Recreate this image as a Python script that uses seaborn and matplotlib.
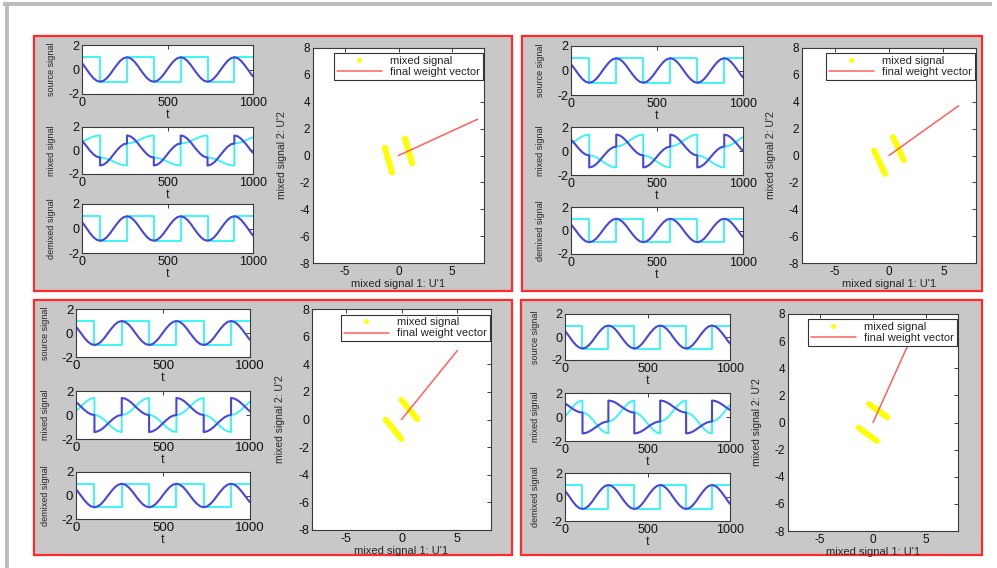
import numpy as np
import pandas as pd
import matplotlib
matplotlib.use("Agg")
import matplotlib.pyplot as plt
from matplotlib.patches import Rectangle
from matplotlib.lines import Line2D
import seaborn as sns

# ---------------- data ----------------
t_axis = [0, 8, 28, 47, 67, 86, 106,
          106, 126, 145, 165, 184, 204, 224, 243, 263,
          263, 283, 302, 322, 341, 361, 381, 400, 420,
          420, 440, 459, 479, 498, 518, 538, 557, 577,
          577, 597, 616, 636, 655, 675, 695, 714, 734,
          734, 754, 773, 793, 812, 832, 852, 871, 891,
          891, 911, 930, 950, 970, 989, 1000]

source_sine = [0.52, 0.38, 0.0, -0.38, -0.71, -0.92, -1.0,
               -1.0, -0.92, -0.71, -0.38, 0.0, 0.38, 0.71, 0.92, 1.0,
               1.0, 0.92, 0.71, 0.38, 0.0, -0.38, -0.71, -0.92, -1.0,
               -1.0, -0.92, -0.71, -0.38, 0.0, 0.38, 0.71, 0.92, 1.0,
               1.0, 0.92, 0.71, 0.38, 0.0, -0.38, -0.71, -0.92, -1.0,
               -1.0, -0.92, -0.71, -0.38, 0.0, 0.38, 0.71, 0.92, 1.0,
               1.0, 0.92, 0.71, 0.38, 0.0, -0.38, -0.57]

source_square = [1, 1, 1, 1, 1, 1, 1,
                 -1, -1, -1, -1, -1, -1, -1, -1, -1,
                 1, 1, 1, 1, 1, 1, 1, 1, 1,
                 -1, -1, -1, -1, -1, -1, -1, -1, -1,
                 1, 1, 1, 1, 1, 1, 1, 1, 1,
                 -1, -1, -1, -1, -1, -1, -1, -1, -1,
                 1, 1, 1, 1, 1, 1, 1]

# demixed signals look identical to the sources
demixed_sine = list(source_sine)
demixed_square = list(source_square)

# mixing coefficients per panel (TL, TR, BL, BR)
mix_cyan_sine = [-0.34, -0.50, -0.71, -0.87]
mix_cyan_square = [0.94, 0.87, 0.71, 0.50]
mix_blue_sine = [0.94, 0.87, 0.71, 0.50]
mix_blue_square = [0.34, 0.50, 0.71, 0.87]

# final weight vector end point per panel
weight_end_x = [7.4, 6.4, 5.0, 3.8]
weight_end_y = [2.7, 3.7, 5.0, 6.6]

small_labels = ["source signal", "mixed signal", "demixed signal"]
legend_labels = ["mixed signal", "final weight vector"]

# ---------------- layout (pixels) ----------------
W, H = 997, 568
panels = [
    dict(box=(34, 36, 512, 291), sx=(82, 253), sy=[(45, 94), (127, 174), (204, 253)], big=(313, 48, 484, 263)),
    dict(box=(522, 36, 982, 291), sx=(571, 743), sy=[(46, 95), (127, 175), (207, 254)], big=(802, 48, 976, 263)),
    dict(box=(34, 300, 512, 555), sx=(76, 250), sy=[(309, 357), (391, 439), (472, 519)], big=(312, 309, 491, 530)),
    dict(box=(521, 300, 982, 555), sx=(565, 730), sy=[(314, 360), (393, 441), (473, 521)], big=(788, 314, 958, 531)),
]


def rect(x0, y0, x1, y1):
    return [x0 / W, 1 - y1 / H, (x1 - x0) / W, (y1 - y0) / H]


sns.set_style("white")
plt.rcParams['font.family'] = ['Liberation Sans', 'DejaVu Sans']
plt.rcParams['axes.unicode_minus'] = False

fig = plt.figure(figsize=(W / 100, H / 100), dpi=100)
fig.patch.set_facecolor("white")

# outer grey frame lines
fig.add_artist(Rectangle((3 / W, 1 - 6 / H), 989 / W, 4 / H, transform=fig.transFigure,
                         facecolor="#bdbdbd", edgecolor="none", zorder=-10))
fig.add_artist(Rectangle((5 / W, 0), 4 / W, 1 - 2 / H, transform=fig.transFigure,
                         facecolor="#bdbdbd", edgecolor="none", zorder=-10))

CYAN = "#2ff5f5"
BLUE = "#4646e0"
RED = "#ff6060"
YEL = "#ffff00"
SPINE = "#3a3a3a"


def style_axes(ax, fs):
    ax.set_facecolor("white")
    for s in ax.spines.values():
        s.set_color(SPINE)
        s.set_linewidth(0.8)
        s.set_visible(True)
    ax.tick_params(direction="in", top=True, right=True, length=3, width=0.7,
                   labelsize=fs, colors=SPINE, labelcolor="#111111", pad=2)


sine = np.array(source_sine)
square = np.array(source_square)

for i, p in enumerate(panels):
    fig.add_artist(Rectangle((p["box"][0] / W, 1 - p["box"][3] / H),
                             (p["box"][2] - p["box"][0]) / W, (p["box"][3] - p["box"][1]) / H,
                             transform=fig.transFigure, facecolor="#c8c8c8",
                             edgecolor="#ff2a2a", lw=1.6, zorder=-5))
    fs = 9.5 if i == 2 else 9
    cyan_mix = mix_cyan_sine[i] * sine + mix_cyan_square[i] * square
    blue_mix = mix_blue_sine[i] * sine + mix_blue_square[i] * square
    series = [(source_square, source_sine), (list(cyan_mix), list(blue_mix)),
              (demixed_square, demixed_sine)]
    for k in range(3):
        y0, y1 = p["sy"][k]
        ax = fig.add_axes(rect(p["sx"][0], y0, p["sx"][1], y1))
        cy, bl = series[k]
        sns.lineplot(x=t_axis, y=cy, ax=ax, estimator=None, sort=False, color=CYAN, lw=1.3)
        sns.lineplot(x=t_axis, y=bl, ax=ax, estimator=None, sort=False, color=BLUE, lw=1.5)
        ax.set_xlim(0, 1000)
        ax.set_ylim(-2, 2)
        ax.set_xticks([0, 500, 1000])
        ax.set_yticks([-2, 0, 2])
        style_axes(ax, fs)
        ax.set_xlabel("t", fontsize=fs, labelpad=0)
        ax.set_ylabel(small_labels[k], fontsize=6.5)
        ax.yaxis.set_label_coords(-0.15, 0.5)

    bx0, by0, bx1, by1 = p["big"]
    ax = fig.add_axes(rect(bx0, by0, bx1, by1))
    df = pd.DataFrame({"u1": cyan_mix, "u2": blue_mix, "grp": square})
    sns.lineplot(data=df, x="u1", y="u2", units="grp", estimator=None, sort=False,
                 color=YEL, lw=3.6, solid_capstyle="round", ax=ax)
    sns.lineplot(x=[0, weight_end_x[i]], y=[0, weight_end_y[i]], ax=ax,
                 estimator=None, sort=False, color=RED, lw=1.1)
    ax.set_xlim(-8, 8)
    ax.set_ylim(-8, 8)
    ax.set_xticks([-5, 0, 5])
    ax.set_yticks(list(range(-8, 9, 2)))
    style_axes(ax, fs - 0.5)
    ax.set_xlabel("mixed signal 1: U'1", fontsize=8, labelpad=1)
    ax.set_ylabel("mixed signal 2: U'2", fontsize=7.5)
    ax.yaxis.set_label_coords(-0.152, 0.5)
    handles = [Line2D([0], [0], color=YEL, marker=".", ls="none", markersize=5),
               Line2D([0], [0], color=RED, lw=1.1)]
    leg = ax.legend(handles, legend_labels, loc="upper right",
                    bbox_to_anchor=(0.995, 0.975), borderaxespad=0, fontsize=8,
                    frameon=True, fancybox=False, framealpha=1, edgecolor="#333333",
                    handlelength=4.0, labelspacing=0.1, borderpad=0.25, handletextpad=0.8)
    leg.get_frame().set_linewidth(0.8)
    leg.set_zorder(10)

fig.savefig("out.png", dpi=100, facecolor="white")
